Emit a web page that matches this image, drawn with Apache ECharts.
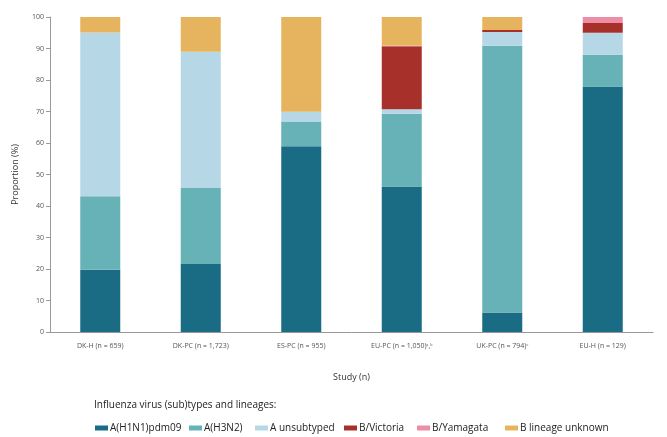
<!DOCTYPE html>
<html>
<head>
<meta charset="utf-8">
<script src="https://cdn.jsdelivr.net/npm/echarts@6/dist/echarts.min.js"></script>
<style>
  html, body { margin: 0; padding: 0; background: #fff; }
  #chart { width: 667px; height: 437px; }
</style>
</head>
<body>
<div id="chart"></div>
<script>
// studies on the x axis
const studies = ['DK-H (n = 659)', 'DK-PC (n = 1,723)', 'ES-PC (n = 955)', 'EU-PC (n = 1,050)ᵃ,ᵇ', 'UK-PC (n = 794)ᶜ', 'EU-H (n = 129)'];

// proportions (%) per (sub)type
const h1n1 = [19.8, 21.6, 59.0, 46.2, 6.2, 77.9];
const h3n2 = [23.3, 24.1, 7.8, 23.1, 84.7, 10.1];
const aUnsub = [52.0, 43.3, 3.1, 1.4, 4.3, 7.0];
const bVic = [0, 0, 0, 20.0, 0.7, 3.1];
const bYam = [0, 0, 0, 0.2, 0, 1.9];
const bUnknown = [4.9, 11.0, 30.1, 9.1, 4.1, 0];

const seriesNames = ['A(H1N1)pdm09', 'A(H3N2)', 'A unsubtyped', 'B/Victoria', 'B/Yamagata', 'B lineage unknown'];
const seriesData = [h1n1, h3n2, aUnsub, bVic, bYam, bUnknown];
const colors = ['#1a6b84', '#66b2b6', '#b6d7e5', '#a8302a', '#ee8ea6', '#e6b45e'];

const legendLeft = [90, 184, 250, 339, 412, 500];
const font = 'Open Sans';

let chart = echarts.init(document.getElementById('chart'));

chart.setOption({
  animation: false,
  textStyle: { fontFamily: font },
  title: {
    text: 'Influenza virus (sub)types and lineages:',
    left: 89,
    top: 395,
    textStyle: { fontSize: 10, fontWeight: 'normal', color: '#222', fontFamily: font },
  },
  legend: seriesNames.map((n, i) => ({
    data: [n],
    left: legendLeft[i],
    top: 418,
    itemWidth: 13,
    itemHeight: 5,
    itemGap: 0,
    icon: 'rect',
    textStyle: { fontSize: 10, color: '#222', padding: [0, 0, 0, -3] },
  })),
  grid: { left: 50, right: 14, top: 17, bottom: 105 },
  xAxis: {
    type: 'category',
    data: studies,
    name: 'Study (n)',
    nameLocation: 'middle',
    nameGap: 41,
    nameTextStyle: { fontSize: 9, color: '#333' },
    axisLine: { lineStyle: { color: '#999' } },
    axisTick: { show: false },
    axisLabel: { fontSize: 7, color: '#555', margin: 10 },
  },
  yAxis: {
    type: 'value',
    min: 0,
    max: 100,
    interval: 10,
    name: 'Proportion (%)',
    nameLocation: 'middle',
    nameGap: 30,
    nameTextStyle: { fontSize: 9, color: '#333' },
    axisLine: { show: true, lineStyle: { color: '#999' } },
    axisTick: { show: true, length: 4, lineStyle: { color: '#999' } },
    axisLabel: { fontSize: 7, color: '#555', margin: 6 },
    splitLine: { show: false },
  },
  series: seriesNames.map((n, i) => ({
    name: n,
    type: 'bar',
    stack: 'total',
    barWidth: 40,
    itemStyle: { color: colors[i] },
    data: seriesData[i],
  })),
});
</script>
</body>
</html>
